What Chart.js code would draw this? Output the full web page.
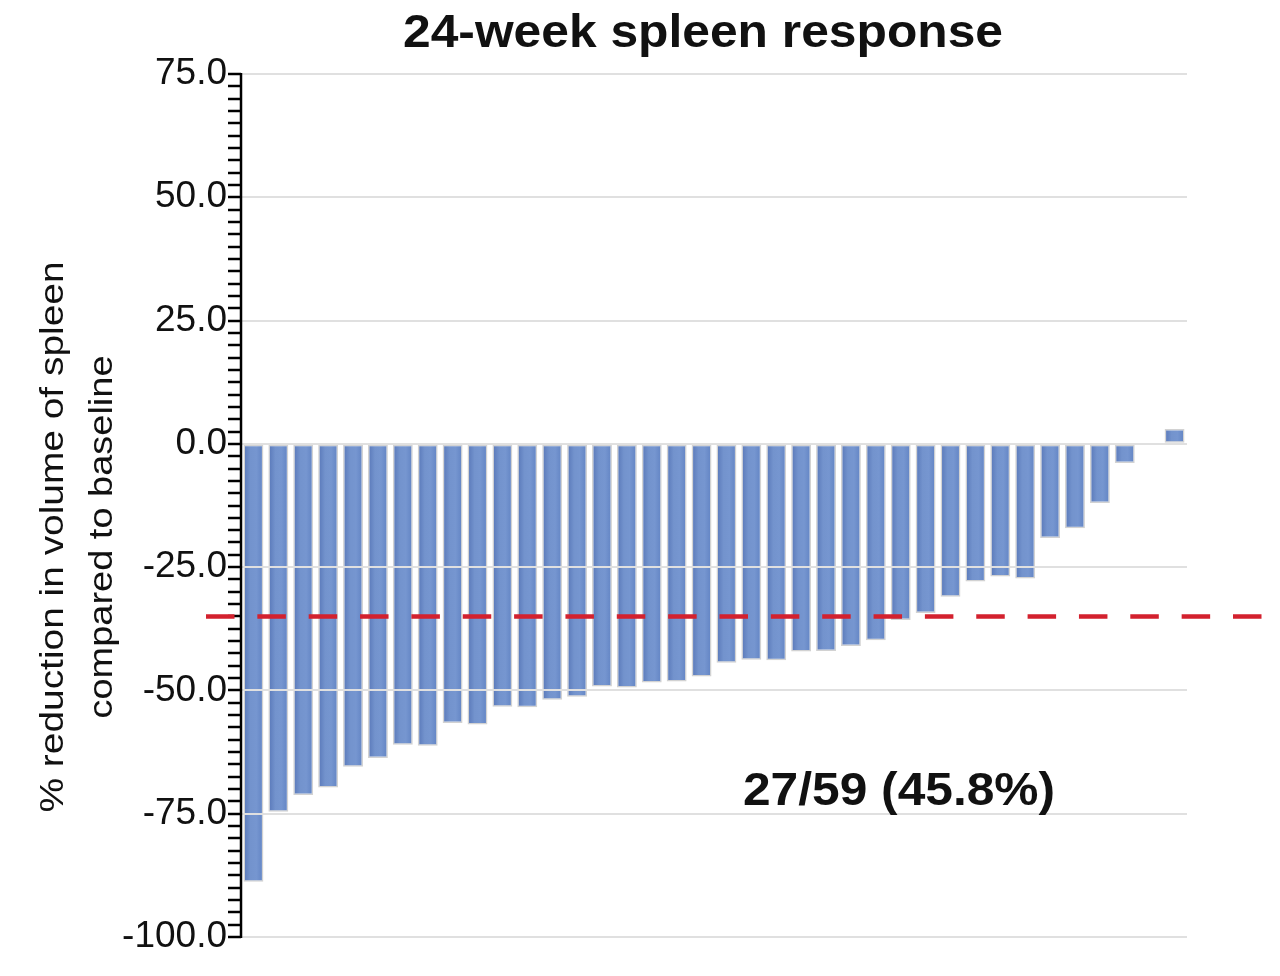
<!DOCTYPE html>
<html>
<head>
<meta charset="utf-8">
<title>24-week spleen response</title>
<script src="https://cdn.jsdelivr.net/npm/chart.js@4.4.1/dist/chart.umd.min.js"></script>
<style>
  html, body { margin: 0; padding: 0; background: #fff; }
  #wrap { width: 1280px; height: 976px; position: relative; }
</style>
</head>
<body>
<div id="wrap"><canvas id="spleenChart"></canvas></div>
<script>
// one bar per patient, sorted waterfall
const patients = ['1','2','3','4','5','6','7','8','9','10','11','12','13','14','15','16','17','18','19',
                  '20','21','22','23','24','25','26','27','28','29','30','31','32','33','34','35','36','37','38'];
const spleenChange = [-88.8, -74.6, -71.2, -69.7, -65.5, -63.7, -61.0, -61.2, -56.6, -56.9,
                      -53.3, -53.4, -51.9, -51.3, -49.2, -49.4, -48.4, -48.2, -47.2, -44.4,
                      -43.8, -43.9, -42.1, -42.0, -41.0, -39.8, -35.7, -34.3, -31.0, -27.9,
                      -26.9, -27.3, -19.1, -17.1, -12.0, -3.9, 0, 3.0];
const yTickLabels = [75, 50, 25, 0, -25, -50, -75, -100];
const responseThreshold = -35;
const chartTitle = '24-week spleen response';
const yTitle = ['% reduction in volume of spleen', 'compared to baseline'];
const responseNote = '27/59 (45.8%)';

// draw text stretched horizontally to a given width
function stretchedText(ctx, text, font, width) {
    ctx.font = font;
    const w = ctx.measureText(text).width;
    ctx.save();
    ctx.scale(width / w, 1);
    ctx.fillText(text, 0, 0);
    ctx.restore();
}

// bar fill: darker edges, lighter middle, like the shaded bars of the original
function barFill(context) {
    const chart = context.chart;
    const xs = chart.scales.x;
    if (!xs || context.dataIndex === undefined) return '#7191cb';
    const cx = xs.getPixelForValue(context.dataIndex);
    const half = xs.width / patients.length * 0.4;
    if (!isFinite(cx) || !(half > 0)) return '#7191cb';
    const g = chart.ctx.createLinearGradient(cx - half, 0, cx + half, 0);
    g.addColorStop(0, '#5877b8');
    g.addColorStop(0.35, '#7393cd');
    g.addColorStop(0.65, '#7696d0');
    g.addColorStop(1, '#6183c3');
    return g;
}

const extras = {
    id: 'extras',
    afterDraw(chart) {
        const ctx = chart.ctx;
        const y = chart.scales.y;
        const area = chart.chartArea;
        const ff = '"Liberation Sans", Arial, Helvetica, sans-serif';

        // y axis line
        ctx.save();
        ctx.strokeStyle = '#000';
        ctx.lineWidth = 2.5;
        ctx.beginPath();
        ctx.moveTo(area.left, y.getPixelForValue(75) - 1);
        ctx.lineTo(area.left, y.getPixelForValue(-100) + 1);
        ctx.stroke();
        ctx.restore();

        // red dashed response line
        const ry = y.getPixelForValue(responseThreshold);
        ctx.save();
        ctx.strokeStyle = '#d3212e';
        ctx.lineWidth = 4.5;
        ctx.setLineDash([28.5, 22.85]);
        ctx.beginPath();
        ctx.moveTo(206, ry);
        ctx.lineTo(1264, ry);
        ctx.stroke();
        ctx.restore();

        ctx.save();
        ctx.fillStyle = '#111';
        ctx.textAlign = 'center';
        ctx.textBaseline = 'alphabetic';

        // title
        ctx.save();
        ctx.translate(703, 47);
        stretchedText(ctx, chartTitle, 'bold 46px ' + ff, 600);
        ctx.restore();

        // response count
        ctx.save();
        ctx.translate(899, 805);
        stretchedText(ctx, responseNote, 'bold 46px ' + ff, 312);
        ctx.restore();

        // y axis title, two lines rotated
        ctx.save();
        ctx.translate(63, 537);
        ctx.rotate(-Math.PI / 2);
        stretchedText(ctx, yTitle[0], '34px ' + ff, 551);
        ctx.restore();
        ctx.save();
        ctx.translate(112, 537);
        ctx.rotate(-Math.PI / 2);
        stretchedText(ctx, yTitle[1], '34px ' + ff, 363);
        ctx.restore();

        ctx.restore();
    }
};

const ctx = document.getElementById('spleenChart');
new Chart(ctx, {
    type: 'bar',
    data: {
        labels: patients,
        datasets: [{
            label: 'Spleen volume change',
            data: spleenChange,
            backgroundColor: barFill,
            borderColor: 'rgba(205, 205, 205, 0.9)',
            borderWidth: 1.5,
            borderSkipped: false,
            categoryPercentage: 1,
            barPercentage: 0.8
        }]
    },
    options: {
        responsive: true,
        maintainAspectRatio: false,
        animation: false,
        layout: { padding: { top: 74, right: 93, bottom: 39, left: 0 } },
        plugins: {
            legend: { display: false },
            title: { display: false },
            tooltip: { enabled: false }
        },
        scales: {
            x: { display: false },
            y: {
                min: -100,
                max: 75,
                afterFit(scale) { scale.width = 241; },
                border: { display: false },
                grid: {
                    z: 1,
                    lineWidth: 2,
                    color: c => yTickLabels.includes(c.tick.value) ? '#e0e0e0' : 'rgba(0,0,0,0)',
                    tickColor: '#000',
                    tickLength: 13,
                    tickWidth: 2.5
                },
                ticks: {
                    stepSize: 2.5,
                    autoSkip: false,
                    padding: 1,
                    color: '#111',
                    font: { family: '"Liberation Sans", Arial, sans-serif', size: 37 },
                    callback: v => yTickLabels.includes(v) ? v.toFixed(1) : ''
                }
            }
        }
    },
    plugins: [extras]
});
</script>
</body>
</html>
